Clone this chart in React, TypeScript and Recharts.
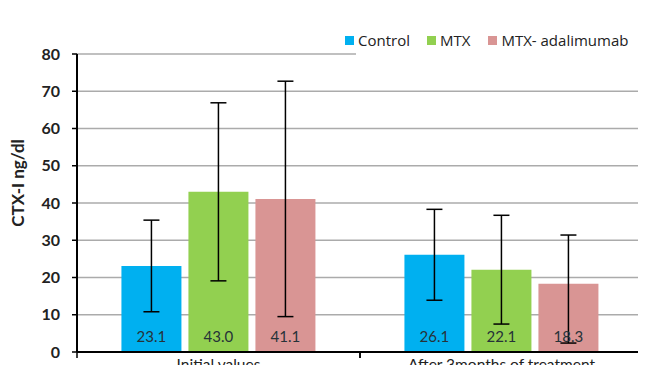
import React from 'react';
import {
  BarChart,
  Bar,
  XAxis,
  YAxis,
  CartesianGrid,
  Legend,
  ErrorBar,
  LabelList,
} from 'recharts';

const categories = ['Initial values', 'After 3months of treatment'];
const control = [23.1, 26.1];
const mtx = [43.0, 22.1];
const mtxAda = [41.1, 18.3];
const controlErr = [12.3, 12.2];
const mtxErr = [23.9, 14.6];
const mtxAdaErr = [[31.6, 31.6], [15.9, 13.1]];
const yTicks = [0, 10, 20, 30, 40, 50, 60, 70, 80];

const data = categories.map((name, i) => ({
  name,
  control: control[i],
  mtx: mtx[i],
  mtxAda: mtxAda[i],
  controlErr: controlErr[i],
  mtxErr: mtxErr[i],
  mtxAdaErr: mtxAdaErr[i],
}));

const WIDTH = 646;
const HEIGHT = 373;
const LEFT = 77;
const RIGHT_MARGIN = 3;
const BAND = (WIDTH - LEFT - RIGHT_MARGIN) / categories.length;

const FONT = 'Lato, "Open Sans", sans-serif';

const series = [
  { key: 'control', err: 'controlErr', name: 'Control', color: '#00B0F0', gap: 17 },
  { key: 'mtx', err: 'mtxErr', name: 'MTX', color: '#92D050', gap: 18 },
  { key: 'mtxAda', err: 'mtxAdaErr', name: 'MTX- adalimumab', color: '#D99594', gap: 0 },
];

const XTick = (props: any) => {
  const { x, y, payload } = props;
  return (
    <g>
      <line x1={x - BAND / 2} y1={y - 9} x2={x - BAND / 2} y2={y - 2} stroke="#000" strokeWidth={1.5} />
      <line x1={x + BAND / 2} y1={y - 9} x2={x + BAND / 2} y2={y - 2} stroke="#000" strokeWidth={1.5} />
      <text x={x} y={y + 10} textAnchor="middle" fontSize={15.5} fill="#222" fontFamily={FONT}>
        {payload.value}
      </text>
    </g>
  );
};

const YLabel = (props: any) => {
  const { viewBox } = props;
  const cx = 24;
  const cy = viewBox.y + viewBox.height / 2 - 20;
  return (
    <text
      x={cx}
      y={cy}
      transform={`rotate(-90, ${cx}, ${cy})`}
      textAnchor="middle"
      fontSize={17}
      fontWeight="bold"
      fill="#222"
      fontFamily={FONT}
    >
      CTX-I ng/dl
    </text>
  );
};

const CustomLegend = () => (
  <div style={{ display: 'flex', alignItems: 'center', fontFamily: '"Open Sans", sans-serif', fontSize: 15, color: '#222', marginLeft: -11 }}>
    {series.map((s) => (
      <div key={s.key} style={{ display: 'flex', alignItems: 'center', marginRight: s.gap }}>
        <div style={{ width: 9, height: 9, background: s.color, marginRight: 4 }} />
        <span>{s.name}</span>
      </div>
    ))}
  </div>
);

const App = () => {
  return (
    <div style={{ position: 'relative', margin: -8, width: WIDTH, height: HEIGHT, overflow: 'hidden', background: '#fff' }}>
      <div
        style={{
          position: 'absolute',
          left: 0,
          top: -10,
          fontFamily: '"Liberation Serif", serif',
          fontWeight: 'bold',
          fontSize: 20,
          color: '#000',
          whiteSpace: 'nowrap',
          lineHeight: '20px',
        }}
      >
        ADL - MTX and control
      </div>
      <BarChart
        width={WIDTH}
        height={HEIGHT}
        data={data}
        margin={{ top: 18, right: RIGHT_MARGIN, left: 0, bottom: 0 }}
        barCategoryGap="15.7%"
        barGap={7}
      >
        <CartesianGrid vertical={false} stroke="#ababab" strokeWidth={1.5} />
        <XAxis
          dataKey="name"
          height={21}
          axisLine={{ stroke: '#000', strokeWidth: 2 }}
          tickLine={false}
          tick={<XTick />}
          interval={0}
        />
        <YAxis
          width={LEFT}
          domain={[0, 80]}
          ticks={yTicks}
          interval={0}
          axisLine={{ stroke: '#000', strokeWidth: 2 }}
          tickLine={{ stroke: '#000', strokeWidth: 1.5 }}
          tickSize={5}
          tickMargin={12}
          tick={{ fontSize: 16, fontWeight: 'bold', fill: '#222', fontFamily: FONT }}
          label={{ content: <YLabel /> }}
        />
        <Legend
          verticalAlign="top"
          align="right"
          content={<CustomLegend />}
          wrapperStyle={{ left: 356, top: 22, width: 290, height: 36, background: '#fff', display: 'flex', alignItems: 'center' }}
        />
        {series.map((s) => (
          <Bar key={s.key} dataKey={s.key} name={s.name} fill={s.color} isAnimationActive={false}>
            <ErrorBar dataKey={s.err} width={8} stroke="#000" strokeWidth={1.5} />
            <LabelList
              dataKey={s.key}
              position="insideBottom"
              offset={10}
              formatter={(v: any) => Number(v).toFixed(1)}
              style={{ fontSize: 15, fill: '#263238', fontFamily: FONT }}
            />
          </Bar>
        ))}
      </BarChart>
    </div>
  );
};

export default App;
